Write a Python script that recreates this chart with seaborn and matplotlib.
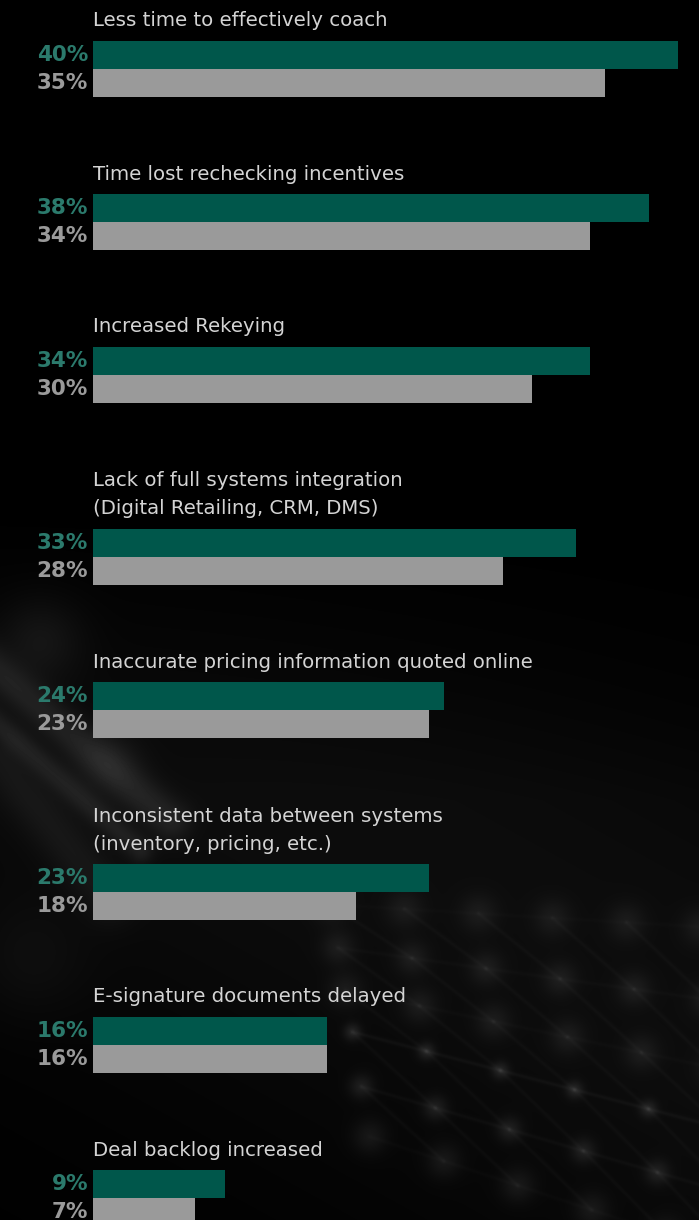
import numpy as np
import pandas as pd
import matplotlib
matplotlib.use("Agg")
import matplotlib.pyplot as plt
import seaborn as sns

# Survey results: share of respondents reporting each issue
issues = [
    "Less time to effectively coach",
    "Time lost rechecking incentives",
    "Increased Rekeying",
    "Lack of full systems integration\n(Digital Retailing, CRM, DMS)",
    "Inaccurate pricing information quoted online",
    "Inconsistent data between systems\n(inventory, pricing, etc.)",
    "E-signature documents delayed",
    "Deal backlog increased",
]
series_names = ["Current", "Previous"]
current_pct = [40, 38, 34, 33, 24, 23, 16, 9]
previous_pct = [35, 34, 30, 28, 23, 18, 16, 7]

GREEN = "#00574b"
GREEN_TXT = "#2b7a6c"
GRAY = "#9a9a9a"
TITLE = "#d4d4d4"

sns.set_theme(style="dark")
plt.rcParams["font.family"] = ["DejaVu Sans"]

W, H = 699, 1220
fig = plt.figure(figsize=(W / 100, H / 100), dpi=100)
fig.patch.set_facecolor("black")

# ---- decorative background: dim haze with a soft-focus node network ----
yy, xx = np.mgrid[0:H, 0:W].astype(float)
bg = np.zeros((H, W))


def blob(cx, cy, sigma, amp):
    global bg
    bg += amp * np.exp(-((xx - cx) ** 2 + (yy - cy) ** 2) / (2 * sigma ** 2))


def segment(p, q, width, amp):
    global bg
    p, q = np.asarray(p, float), np.asarray(q, float)
    d = q - p
    t = np.clip(((xx - p[0]) * d[0] + (yy - p[1]) * d[1]) / (d @ d), 0, 1)
    dist2 = (xx - p[0] - t * d[0]) ** 2 + (yy - p[1] - t * d[1]) ** 2
    bg += amp * np.exp(-dist2 / (2 * width ** 2))


# general haze in the lower half
band = (yy - (640 + xx * 0.55)) / np.sqrt(1 + 0.55 ** 2)
bg += 0.05 * np.exp(-(band ** 2) / (2 * 220 ** 2)) * np.clip((yy - 500) / 300, 0, 1)
# bright soft streaks on the left edge
segment((-40, 640), (170, 820), 14, 0.09)
segment((-40, 690), (140, 850), 9, 0.08)
segment((0, 760), (110, 900), 18, 0.05)
blob(40, 640, 30, 0.06)
blob(110, 760, 22, 0.05)
blob(30, 960, 40, 0.03)

# perspective rows of nodes: (y at x=400, slope, sharpness)
rows = [(907, 0.06, 0.3), (954, 0.14, 0.45), (1000, 0.21, 0.4),
        (1044, 0.26, 1.0), (1100, 0.29, 0.75), (1152, 0.33, 0.4)]
node_xs = np.arange(352, 780, 74)
grid_pts = []
for y0, s, k in rows:
    pts = [(x + 8 * (y0 - 1044) / 50, y0 + s * (x - 400)) for x in node_xs]
    grid_pts.append(pts)
    for (x, y) in pts:
        blob(x, y, 6 + 10 * (1 - k), 0.04 + 0.06 * k)
    for a, b in zip(pts[:-1], pts[1:]):
        segment(a, b, 1.4, 0.028 * k)
# diagonal links between rows
for r in range(len(grid_pts) - 1):
    for i in range(len(node_xs) - 1):
        segment(grid_pts[r][i], grid_pts[r + 1][i + 1], 1.4, 0.018)
bg = np.clip(bg, 0, 1)

bg_ax = fig.add_axes([0, 0, 1, 1])
bg_ax.imshow(bg, extent=(0, W, H, 0), aspect="auto", cmap="gray",
             vmin=0, vmax=1, interpolation="bilinear")
bg_ax.set_xlim(0, W)
bg_ax.set_ylim(H, 0)
bg_ax.set_axis_off()

# ---- bar chart ----
ax = fig.add_axes([0, 0, 1, 1])
ax.patch.set_alpha(0)

bar_h = 28
base_step, line_step = 153, 29
n_lines = [t.count("\n") + 1 for t in issues]
tops = [41.0]
for n in n_lines[1:]:
    tops.append(tops[-1] + base_step + line_step * (n - 1))
centers = [t + bar_h for t in tops]

# horizontal scale: 0% at px 93, 40% at px 678
px_per_pct = 585 / 40
x0_px = 93
xmin = -x0_px / px_per_pct
xmax = (W - x0_px) / px_per_pct

df = pd.DataFrame({
    "pos": centers * 2,
    "series": [series_names[0]] * len(issues) + [series_names[1]] * len(issues),
    "value": current_pct + previous_pct,
})
min_gap = np.min(np.diff(centers))
sns.barplot(data=df, x="value", y="pos", hue="series", orient="h",
            native_scale=True, width=2 * bar_h / min_gap, dodge=True,
            hue_order=series_names, palette=[GREEN, GRAY], saturation=1,
            errorbar=None, linewidth=0, legend=False, ax=ax, zorder=2)

for i, title in enumerate(issues):
    c = centers[i]
    lines = title.split("\n")
    for j, line in enumerate(lines):
        y_line = tops[i] - 20 - 28 * (len(lines) - 1 - j)
        ax.text(0, y_line, line, color=TITLE, fontsize=14.2,
                va="center", ha="left", zorder=3)
    ax.text(-5 / px_per_pct, c - bar_h / 2, f"{current_pct[i]}%",
            color=GREEN_TXT, fontsize=15.5, fontweight="bold",
            ha="right", va="center", zorder=3)
    ax.text(-5 / px_per_pct, c + bar_h / 2, f"{previous_pct[i]}%",
            color=GRAY, fontsize=15.5, fontweight="bold",
            ha="right", va="center", zorder=3)

ax.set_xlim(xmin, xmax)
ax.set_ylim(H, 0)
ax.set_axis_off()

fig.savefig("out.png", dpi=100, facecolor="black")
